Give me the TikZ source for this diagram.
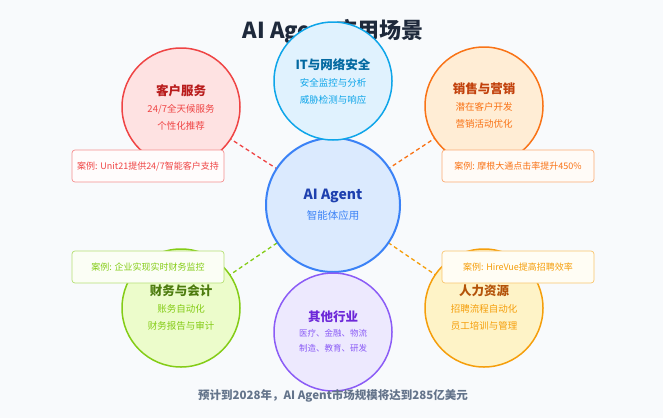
\documentclass[tikz,border=0pt]{standalone}
\usepackage{fontspec}
\setmainfont{Noto Sans CJK SC}
\definecolor{bg}{HTML}{F8FAFC}
\definecolor{rB}{HTML}{EF4444}\definecolor{rF}{HTML}{FEE2E2}\definecolor{rT}{HTML}{B91C1C}
\definecolor{bB}{HTML}{0EA5E9}\definecolor{bF}{HTML}{E0F2FE}\definecolor{bT}{HTML}{0369A1}
\definecolor{oB}{HTML}{F97316}\definecolor{oF}{HTML}{FFEDD5}\definecolor{oT}{HTML}{C2410C}
\definecolor{gB}{HTML}{84CC16}\definecolor{gF}{HTML}{ECFCCB}\definecolor{gT}{HTML}{4D7C0F}
\definecolor{yB}{HTML}{F59E0B}\definecolor{yF}{HTML}{FEF3C7}\definecolor{yT}{HTML}{B45309}
\definecolor{pB}{HTML}{8B5CF6}\definecolor{pF}{HTML}{EDE9FE}\definecolor{pT}{HTML}{6D28D9}
\definecolor{cB}{HTML}{3B82F6}\definecolor{cF}{HTML}{DBEAFE}\definecolor{cT}{HTML}{1E40AF}
\definecolor{dark}{HTML}{1E293B}\definecolor{gry}{HTML}{64748B}
\begin{document}
\begin{tikzpicture}[x=1pt,y=-1pt,
 circ/.style={circle,draw=#1,line width=1.5pt,minimum size=118pt,inner sep=0pt,align=center,text=#1,font=\fontsize{9.5}{17}\selectfont},
 case/.style={rounded corners=3pt,line width=0.7pt,minimum width=152pt,minimum height=32pt,font=\fontsize{9}{10}\selectfont,text=#1},
 con/.style={draw=#1,line width=1.3pt,dash pattern=on 4pt off 3pt}]
\fill[bg] (0,0) rectangle (663,418);
\useasboundingbox (0,0) rectangle (663,418);
\node[font=\fontsize{22}{26}\selectfont\bfseries,text=dark] (title) at (333,32) {AI Agent应用场景};
\coordinate (cc) at (333,205);
\coordinate (c1) at (181,107);\coordinate (c2) at (484,106);
\coordinate (c3) at (181,308);\coordinate (c4) at (484,308);
\draw[con=rB] (c1)--(cc);\draw[con=oB] (c2)--(cc);
\draw[con=gB] (c3)--(cc);\draw[con=yB] (c4)--(cc);
\node[circ=rB,fill=rF] (cs) at (c1) {\textcolor{rT}{\fontsize{12.5}{15}\selectfont\bfseries 客户服务}\\24/7全天候服务\\个性化推荐};
\node[circ=oB,fill=oF] (sa) at (c2) {\textcolor{oT}{\fontsize{12.5}{15}\selectfont\bfseries 销售与营销}\\潜在客户开发\\营销活动优化};
\node[circ=gB,fill=gF] (fi) at (c3) {\textcolor{gT}{\fontsize{12.5}{15}\selectfont\bfseries 财务与会计}\\账务自动化\\财务报告与审计};
\node[circ=yB,fill=yF] (hr) at (c4) {\textcolor{yT}{\fontsize{12.5}{15}\selectfont\bfseries 人力资源}\\招聘流程自动化\\员工培训与管理};
\node[circ=cB,fill=cF,minimum size=134pt,line width=2pt,font=\fontsize{10.5}{20}\selectfont] (ai) at (cc) {\textcolor{cT}{\fontsize{14}{17}\selectfont\bfseries AI Agent}\\智能体应用};
\node[circ=bB,fill=bF] (it) at (333,81) {\textcolor{bT}{\fontsize{12.5}{15}\selectfont\bfseries IT与网络安全}\\安全监控与分析\\威胁检测与响应};
\node[circ=pB,fill=pF,font=\fontsize{8.5}{15}\selectfont] (ot) at (333,332) {\textcolor{pT}{\fontsize{12.5}{15}\selectfont\bfseries 其他行业}\\医疗、金融、物流\\制造、教育、研发};
\node[case=rB,fill=white!90!rF,draw=rB!60] (k1) at (148,166) {案例: Unit21提供24/7智能客户支持};
\node[case=oB,fill=white!80!oF,draw=oB!60] (k2) at (518,166) {案例: 摩根大通点击率提升450\%};
\node[case=gB,fill=white!80!gF,draw=gB!60] (k3) at (148,267) {案例: 企业实现实时财务监控};
\node[case=yB,fill=white!80!yF,draw=yB!60] (k4) at (518,267) {案例: HireVue提高招聘效率};
\node[font=\fontsize{11.5}{14}\selectfont\bfseries,text=gry] (foot) at (333,396) {预计到2028年，AI Agent市场规模将达到285亿美元};
\end{tikzpicture}
\end{document}
